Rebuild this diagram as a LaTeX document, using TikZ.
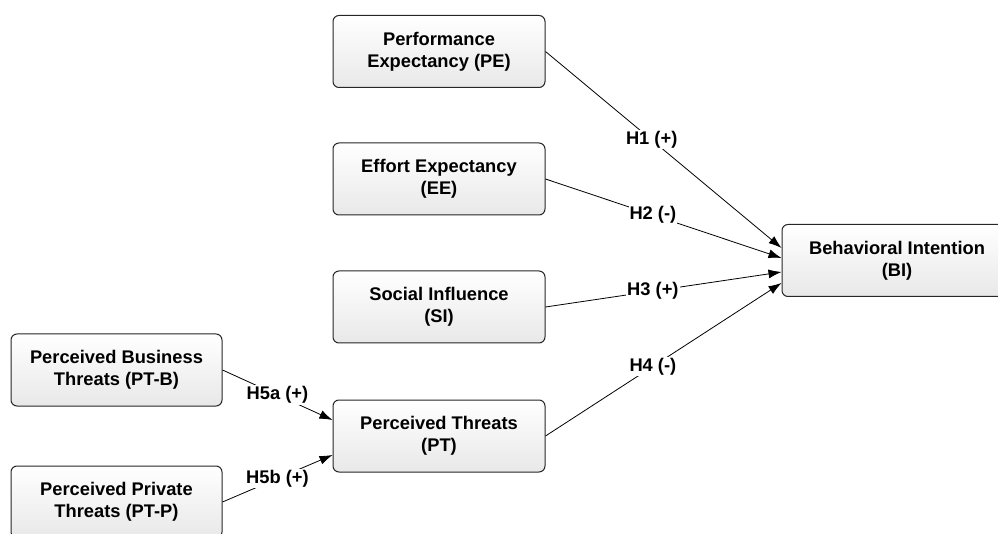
\documentclass[tikz,border=0pt]{standalone}
\usepackage{fontspec}
\setmainfont{Liberation Sans}
\usetikzlibrary{arrows.meta}

\tikzset{
  construct/.style={draw=black!85, line width=1pt, rounded corners=6pt,
    top color=white, bottom color=black!9, minimum height=72pt,
    align=center, font=\fontsize{18.3}{22}\selectfont\bfseries},
  link/.style={line width=0.8pt, -{Latex[length=13pt,width=9pt]}},
  hyp/.style={fill=white, inner sep=1pt, font=\fontsize{18.3}{22}\selectfont\bfseries}
}

\begin{document}
\begin{tikzpicture}[x=1pt,y=-1pt]
                        \useasboundingbox (0,0) rectangle (998,534);

                        % constructs
                        \node[construct, minimum width=212pt] (PE) at (439,51.5) {Performance\\Expectancy (PE)};
                        \node[construct, minimum width=212pt] (EE) at (439,179) {Effort Expectancy\\(EE)};
                        \node[construct, minimum width=212pt] (SI) at (439,307) {Social Influence\\(SI)};
                        \node[construct, minimum width=212pt] (PT) at (439,436) {Perceived Threats\\(PT)};
                        \node[construct, minimum width=230pt] (BI) at (897,260.5) {Behavioral Intention\\(BI)};
                        \node[construct, minimum width=211pt] (PTB) at (116.5,370) {Perceived Business\\Threats (PT-B)};
                        \node[construct, minimum width=211pt] (PTP) at (116.5,502) {Perceived Private\\Threats (PT-P)};

                        % arrow ends
                        \coordinate (bi1) at ([yshift=12.5pt]BI.west);
                        \coordinate (bi2) at ([yshift=2.5pt]BI.west);
                        \coordinate (bi3) at ([yshift=-11.5pt]BI.west);
                        \coordinate (bi4) at ([yshift=-22.5pt]BI.west);
                        \coordinate (pt1) at ([yshift=16pt]PT.west);
                        \coordinate (pt2) at ([yshift=-19pt]PT.west);

                        \draw[link] (PE.east)--(bi1) node[hyp, pos=0.45] {H1 (+)};
                        \draw[link] (EE.east)--(bi2) node[hyp, pos=0.455] {H2 (-)};
                        \draw[link] (SI.east)--(bi3) node[hyp, pos=0.455] {H3 (+)};
                        \draw[link] (PT.east)--(bi4) node[hyp, pos=0.455] {H4 (-)};
                        \draw[link] (PTB.east)--(pt1) node[hyp, pos=0.5] {H5a (+)};
                        \draw[link] (PTP.east)--(pt2) node[hyp, pos=0.5] {H5b (+)};
                    \end{tikzpicture}
\end{document}
